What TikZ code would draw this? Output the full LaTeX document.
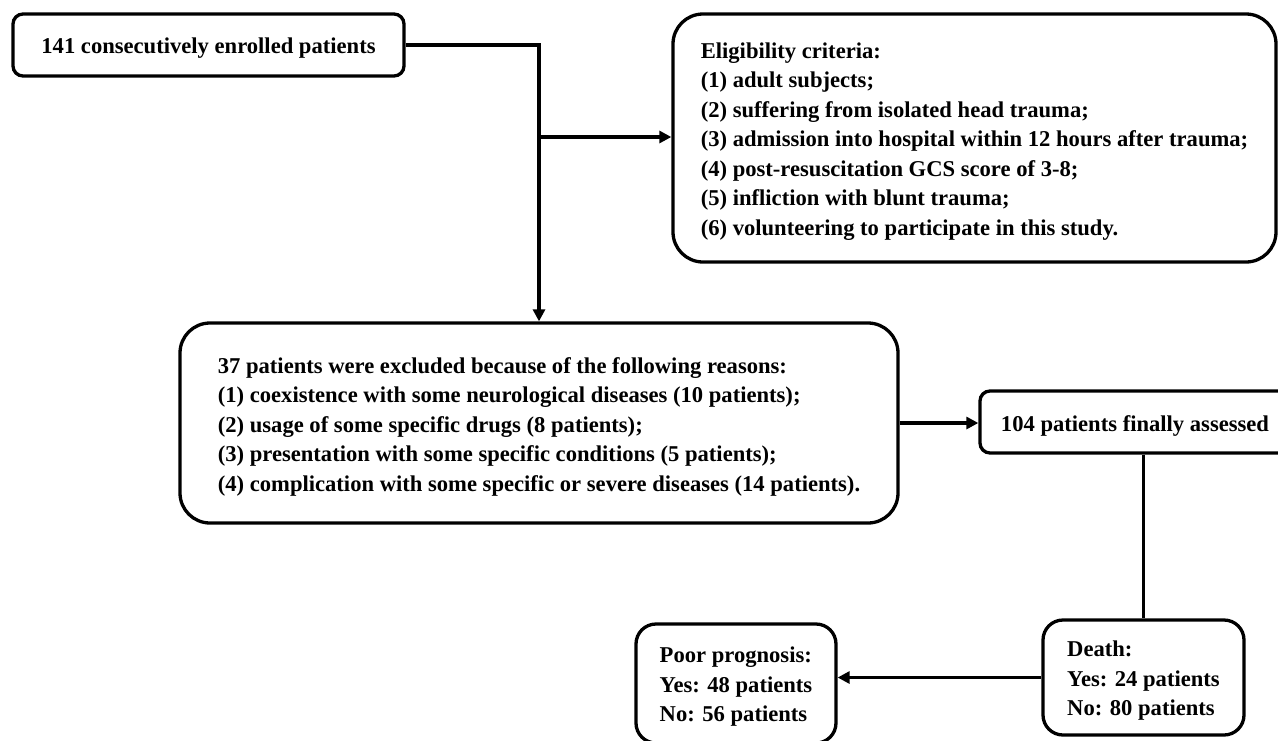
\documentclass[tikz,border=0pt]{standalone}
\usepackage{fontspec}
\setmainfont{Liberation Serif}
\usetikzlibrary{arrows.meta}
\begin{document}
\begin{tikzpicture}[x=1pt,y=-1pt,
  box/.style={draw,line width=3.3pt,fill=white,inner sep=0pt},
  txt/.style={inner sep=0pt,align=left,yshift=-3.5pt,
    font=\fontsize{22.6}{29.5}\selectfont\bfseries},
  arr/.style={line width=3.6pt,-{Triangle[length=12pt,width=12pt]}},
  ln/.style={line width=3.6pt}]
\useasboundingbox (0,0) rectangle (1278,740);
\clip (0,0) rectangle (1278,740);

\node[box,rounded corners=10pt,minimum width=391pt,minimum height=62pt] (A) at (208.5,45) {};
\node[txt] (At) at (A.center) {141 consecutively enrolled patients};

\node[box,rounded corners=30pt,minimum width=603pt,minimum height=248pt] (B) at (974.5,138) {};
\node[txt] (Bt) at (B.center)
  {Eligibility criteria:\\
   (1) adult subjects;\\
   (2) suffering from isolated head trauma;\\
   (3) admission into hospital within 12 hours after trauma;\\
   (4) post-resuscitation GCS score of 3-8;\\
   (5) infliction with blunt trauma;\\
   (6) volunteering to participate in this study.};

\node[box,rounded corners=30pt,minimum width=718pt,minimum height=200pt] (C) at (539,423) {};
\node[txt] (Ct) at (C.center)
  {37 patients were excluded because of the following reasons:\\
   (1) coexistence with some neurological diseases (10 patients);\\
   (2) usage of some specific drugs (8 patients);\\
   (3) presentation with some specific conditions (5 patients);\\
   (4) complication with some specific or severe diseases (14 patients).};

\node[box,rounded corners=10pt,minimum width=310pt,minimum height=62pt] (D) at (1135,422) {};
\node[txt] (Dt) at (D.center) {104 patients finally assessed};

\node[box,rounded corners=20pt,minimum width=201pt,minimum height=115pt] (E) at (1143.5,677.5) {};
\node[txt] (Et) at (E.center) {Death:\\ Yes: 24 patients\\ No: 80 patients};

\node[box,rounded corners=20pt,minimum width=200pt,minimum height=119pt] (F) at (736,683.5) {};
\node[txt] (Ft) at (F.center) {Poor prognosis:\\ Yes: 48 patients\\ No: 56 patients};

\coordinate (j) at (539,137);
\draw[arr] (A.east) -| (C.north);
\draw[arr] (j) -- (j -| B.west);
\draw[arr] (C.east) -- (C.east -| D.west);
\draw[ln] (E.north |- D.south) -- (E.north);
\draw[arr] (E.west) -- (E.west -| F.east);
\end{tikzpicture}
\end{document}
